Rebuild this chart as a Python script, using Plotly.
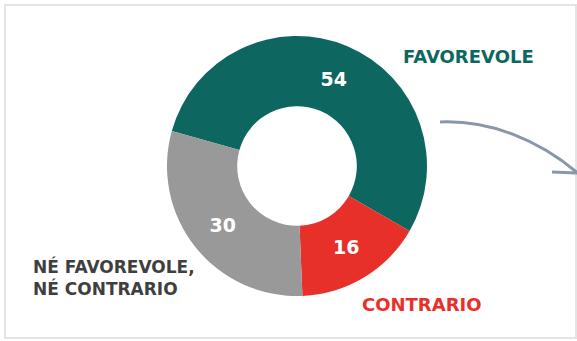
import plotly.graph_objects as go

labels = ["FAVOREVOLE", "CONTRARIO", "NÉ FAVOREVOLE,<br>NÉ CONTRARIO"]
values = [54, 16, 30]
colors = ["#0e6661", "#e8302a", "#999999"]
label_colors = ["#0e6661", "#e8302a", "#3f3f3f"]

W, H = 577, 341

def px(x):
    return x / W

def py(y):
    return 1 - y / H

fig = go.Figure()
fig.add_trace(go.Pie(
    labels=labels,
    values=values,
    marker=dict(colors=colors, line=dict(width=0)),
    hole=0.46,
    sort=False,
    direction="clockwise",
    rotation=-74.4,
    textinfo="value",
    textposition="inside",
    insidetextorientation="horizontal",
    textfont=dict(family="DejaVu Sans", size=19, color="white", weight="bold"),
    showlegend=False,
    domain=dict(x=[px(297 - 130), px(297 + 130)], y=[py(166 + 130), py(166 - 130)]),
))

# outside category labels
label_pos = [(401, 57, 18), (360, 304, 18), (31, 277, 17)]
for lab, col, (x, y, fs) in zip(labels, label_colors, label_pos):
    fig.add_annotation(
        x=px(x), y=py(y), xref="paper", yref="paper",
        text=lab, showarrow=False, xanchor="left", yanchor="middle", align="left",
        font=dict(family="DejaVu Sans", size=fs, color=col, weight="bold"),
    )

# frame
fig.add_shape(type="rect", xref="paper", yref="paper",
              x0=px(5), x1=px(576), y0=py(338), y1=py(5),
              line=dict(color="#e4e4e4", width=2))

# curved arrow
def P(x, y):
    return f"{px(x):.4f},{py(y):.4f}"

fig.add_shape(type="path", xref="paper", yref="paper",
              path=f"M {P(440,122)} C {P(490,120)} {P(540,140)} {P(580,175)}",
              line=dict(color="#8a96ab", width=3))
fig.add_shape(type="path", xref="paper", yref="paper",
              path=f"M {P(552,172)} L {P(580,173)}",
              line=dict(color="#8a96ab", width=3))

fig.update_layout(
    width=W, height=H,
    margin=dict(l=0, r=0, t=0, b=0),
    paper_bgcolor="white", plot_bgcolor="white",
)

fig.write_html("out.html")
